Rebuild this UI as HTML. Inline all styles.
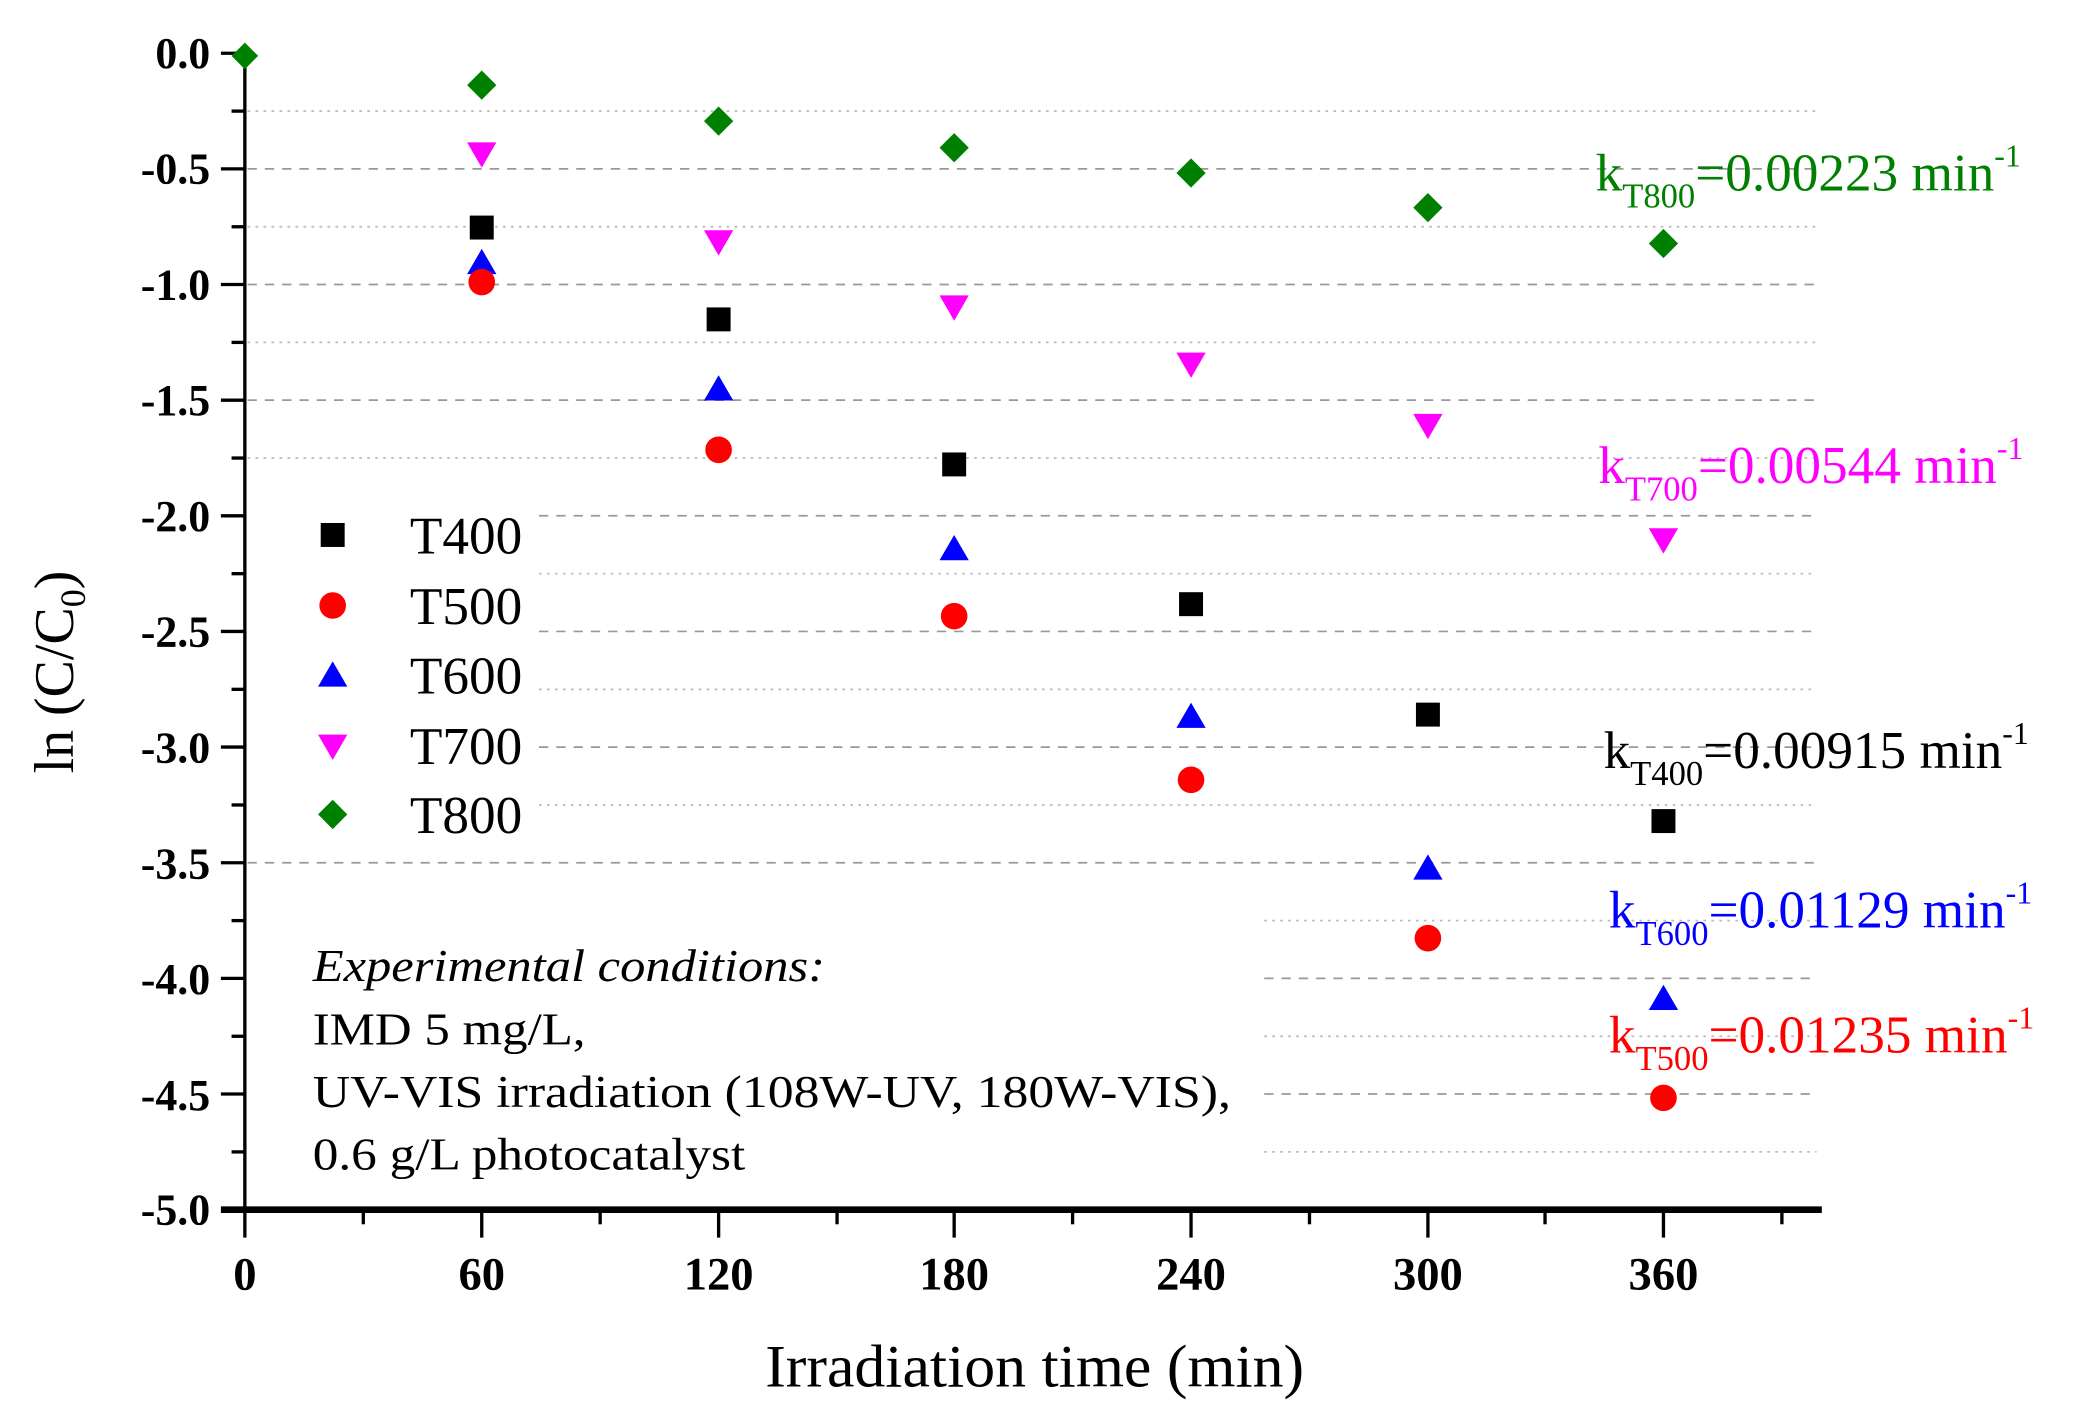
<!DOCTYPE html>
<html><head><meta charset="utf-8"><style>html,body{margin:0;padding:0;background:#fff}svg{display:block}</style></head>
<body>
<svg width="2076" height="1413" viewBox="0 0 1560 1061.8" preserveAspectRatio="none" xmlns="http://www.w3.org/2000/svg" font-family="Liberation Serif, serif">
<rect width="1560" height="1062" fill="#fff"/>
<g stroke="#999" stroke-width="1.3">
<g stroke-dasharray="7,6">
<line x1="186" y1="126.9" x2="1365" y2="126.9"/>
<line x1="186" y1="213.8" x2="1365" y2="213.8"/>
<line x1="186" y1="300.7" x2="1365" y2="300.7"/>
<line x1="405" y1="387.6" x2="1365" y2="387.6"/>
<line x1="405" y1="474.5" x2="1365" y2="474.5"/>
<line x1="405" y1="561.4" x2="1365" y2="561.4"/>
<line x1="186" y1="648.3" x2="1365" y2="648.3"/>
<line x1="950" y1="735.2" x2="1365" y2="735.2"/>
<line x1="950" y1="822.1" x2="1365" y2="822.1"/>
</g>
<g stroke-dasharray="2,4" stroke="#bbb">
<line x1="186" y1="83.5" x2="1365" y2="83.5"/>
<line x1="186" y1="170.4" x2="1365" y2="170.4"/>
<line x1="186" y1="257.3" x2="1365" y2="257.3"/>
<line x1="186" y1="344.2" x2="1365" y2="344.2"/>
<line x1="405" y1="431.1" x2="1365" y2="431.1"/>
<line x1="405" y1="518" x2="1365" y2="518"/>
<line x1="405" y1="604.9" x2="1365" y2="604.9"/>
<line x1="950" y1="691.8" x2="1365" y2="691.8"/>
<line x1="950" y1="778.7" x2="1365" y2="778.7"/>
<line x1="950" y1="865.6" x2="1365" y2="865.6"/>
</g>
</g>
<g stroke="#000">
<line x1="184" y1="38" x2="184" y2="911" stroke-width="2.5"/>
<line x1="166" y1="909" x2="1369" y2="909" stroke-width="5"/>
<g stroke-width="2.5">
<line x1="166" y1="40" x2="184" y2="40"/><line x1="166" y1="126.9" x2="184" y2="126.9"/><line x1="166" y1="213.8" x2="184" y2="213.8"/><line x1="166" y1="300.7" x2="184" y2="300.7"/><line x1="166" y1="387.6" x2="184" y2="387.6"/><line x1="166" y1="474.5" x2="184" y2="474.5"/><line x1="166" y1="561.4" x2="184" y2="561.4"/><line x1="166" y1="648.3" x2="184" y2="648.3"/><line x1="166" y1="735.2" x2="184" y2="735.2"/><line x1="166" y1="822.1" x2="184" y2="822.1"/>
<line x1="174" y1="83.5" x2="184" y2="83.5"/><line x1="174" y1="170.4" x2="184" y2="170.4"/><line x1="174" y1="257.3" x2="184" y2="257.3"/><line x1="174" y1="344.2" x2="184" y2="344.2"/><line x1="174" y1="431.1" x2="184" y2="431.1"/><line x1="174" y1="518" x2="184" y2="518"/><line x1="174" y1="604.9" x2="184" y2="604.9"/><line x1="174" y1="691.8" x2="184" y2="691.8"/><line x1="174" y1="778.7" x2="184" y2="778.7"/><line x1="174" y1="865.6" x2="184" y2="865.6"/>
<line x1="184" y1="909" x2="184" y2="930"/><line x1="362" y1="909" x2="362" y2="930"/><line x1="540" y1="909" x2="540" y2="930"/><line x1="717" y1="909" x2="717" y2="930"/><line x1="895" y1="909" x2="895" y2="930"/><line x1="1073" y1="909" x2="1073" y2="930"/><line x1="1250" y1="909" x2="1250" y2="930"/>
<line x1="273" y1="909" x2="273" y2="920"/><line x1="451" y1="909" x2="451" y2="920"/><line x1="629" y1="909" x2="629" y2="920"/><line x1="806" y1="909" x2="806" y2="920"/><line x1="984" y1="909" x2="984" y2="920"/><line x1="1161" y1="909" x2="1161" y2="920"/><line x1="1339" y1="909" x2="1339" y2="920"/>
</g>
</g>
<g font-size="33" font-weight="bold" text-anchor="end" fill="#000">
<text x="158" y="51">0.0</text><text x="158" y="138">-0.5</text><text x="158" y="225">-1.0</text><text x="158" y="312">-1.5</text><text x="158" y="399">-2.0</text><text x="158" y="486">-2.5</text><text x="158" y="573">-3.0</text><text x="158" y="660">-3.5</text><text x="158" y="747">-4.0</text><text x="158" y="834">-4.5</text><text x="158" y="920">-5.0</text>
</g>
<g font-size="35" font-weight="bold" text-anchor="middle" fill="#000">
<text x="184" y="969">0</text><text x="362" y="969">60</text><text x="540" y="969">120</text><text x="717" y="969">180</text><text x="895" y="969">240</text><text x="1073" y="969">300</text><text x="1250" y="969">360</text>
</g>
<text x="575" y="1042" font-size="45" textLength="405" lengthAdjust="spacingAndGlyphs">Irradiation time (min)</text>
<text transform="translate(55,505) rotate(-90)" font-size="42" text-anchor="middle">ln (C/C<tspan font-size="27" dy="9">0</tspan><tspan dy="-9">)</tspan></text>
<g fill="#008000">
<path d="M184,32 l10,10 -10,10 -10,-10z"/><path d="M362,53 l11,11 -11,11 -11,-11z"/><path d="M540,80 l11,11 -11,11 -11,-11z"/><path d="M717,100 l11,11 -11,11 -11,-11z"/><path d="M895,119 l11,11 -11,11 -11,-11z"/><path d="M1073,145 l11,11 -11,11 -11,-11z"/><path d="M1250,172 l11,11 -11,11 -11,-11z"/>
<path d="M250,601 l11,11 -11,11 -11,-11z"/>
</g>
<g fill="#ff00ff">
<path d="M351,107 h22 l-11,19z"/><path d="M529,173 h22 l-11,19z"/><path d="M706,222 h22 l-11,19z"/><path d="M884,265 h22 l-11,19z"/><path d="M1062,311 h22 l-11,19z"/><path d="M1239,397 h22 l-11,19z"/>
<path d="M239,552 h22 l-11,19z"/>
</g>
<g fill="#000">
<rect x="353" y="162" width="18" height="18"/><rect x="531" y="231" width="18" height="18"/><rect x="708" y="340" width="18" height="18"/><rect x="886" y="445" width="18" height="18"/><rect x="1064" y="528" width="18" height="18"/><rect x="1241" y="608" width="18" height="18"/>
<rect x="241" y="393" width="18" height="18"/>
</g>
<g fill="#0000ff">
<path d="M362,187 l11,19 h-22z"/><path d="M540,282 l11,19 h-22z"/><path d="M717,402 l11,19 h-22z"/><path d="M895,528 l11,19 h-22z"/><path d="M1073,642 l11,19 h-22z"/><path d="M1250,740 l11,19 h-22z"/>
<path d="M250,497 l11,19 h-22z"/>
</g>
<g fill="#ff0000">
<circle cx="362" cy="212" r="10"/><circle cx="540" cy="338" r="10"/><circle cx="717" cy="463" r="10"/><circle cx="895" cy="586" r="10"/><circle cx="1073" cy="705" r="10"/><circle cx="1250" cy="825" r="10"/>
<circle cx="250" cy="455" r="10"/>
</g>
<g font-size="40" fill="#000">
<text x="308" y="416">T400</text><text x="308" y="469">T500</text><text x="308" y="521">T600</text><text x="308" y="574">T700</text><text x="308" y="626">T800</text>
</g>
<g font-size="34" fill="#000">
<text x="235" y="737" font-style="italic" textLength="385" lengthAdjust="spacingAndGlyphs">Experimental conditions:</text>
<text x="235" y="785" textLength="205" lengthAdjust="spacingAndGlyphs">IMD 5 mg/L,</text>
<text x="235" y="832" textLength="690" lengthAdjust="spacingAndGlyphs">UV-VIS irradiation (108W-UV, 180W-VIS),</text>
<text x="235" y="879" textLength="325" lengthAdjust="spacingAndGlyphs">0.6 g/L photocatalyst</text>
</g>
<g font-size="40">
<text x="1199" y="143" fill="#008000">k<tspan font-size="26" dy="13">T800</tspan><tspan dy="-13">=0.00223 min</tspan><tspan font-size="24" dy="-18">-1</tspan></text>
<text x="1201" y="363" fill="#ff00ff">k<tspan font-size="26" dy="13">T700</tspan><tspan dy="-13">=0.00544 min</tspan><tspan font-size="24" dy="-18">-1</tspan></text>
<text x="1205" y="577" fill="#000">k<tspan font-size="26" dy="13">T400</tspan><tspan dy="-13">=0.00915 min</tspan><tspan font-size="24" dy="-18">-1</tspan></text>
<text x="1209" y="697" fill="#0000ff">k<tspan font-size="26" dy="13">T600</tspan><tspan dy="-13">=0.01129 min</tspan><tspan font-size="24" dy="-18">-1</tspan></text>
<text x="1209" y="791" fill="#ff0000">k<tspan font-size="26" dy="13">T500</tspan><tspan dy="-13">=0.01235 min</tspan><tspan font-size="24" dy="-18">-1</tspan></text>
</g>
</svg>
</body></html>
